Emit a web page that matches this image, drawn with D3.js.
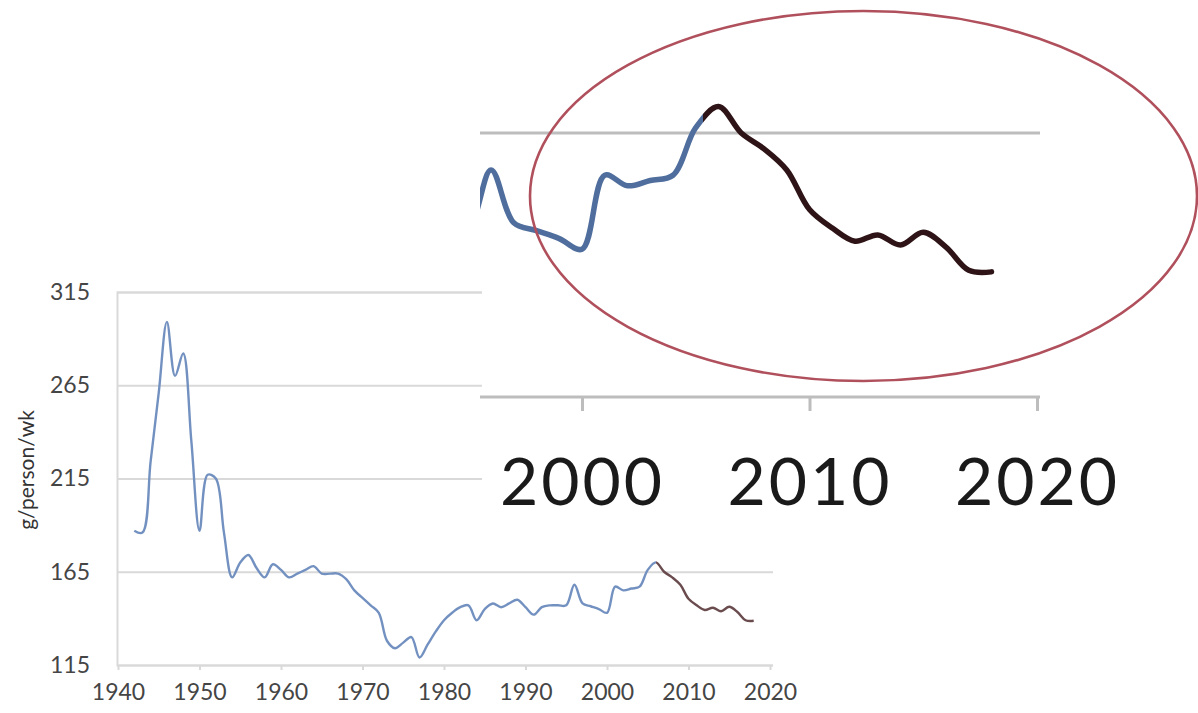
<!DOCTYPE html>
<html><head><meta charset="utf-8">
<script src="https://cdn.jsdelivr.net/npm/d3@7"></script>
<style>body{margin:0;background:#fff}svg{display:block}</style>
</head><body>
<svg id="c" width="1198" height="713"></svg>
<script>
// ---- data ----
const years = [1942,1943,1944,1945,1946,1947,1948,1949,1950,1951,1952,1953,1954,1955,1956,1957,1958,1959,1960,1961,
  1962,1963,1964,1965,1966,1967,1968,1969,1970,1971,1972,1973,1974,1975,1976,1977,1978,1979,1980,1981,
  1982,1983,1984,1985,1986,1987,1988,1989,1990,1991,1992,1993,1994,1995,1996,1997,1998,1999,2000,2001,
  2002,2003,2004,2005,2006,2007,2008,2009,2010,2011,2012,2013,2014,2015,2016,2017,2018];
const values = [187,186,224,261,299,270,282,235,187,217,215,186,162,170,174,167,162,169,166,162,
  164,166,168,164,164,164,161,155,151,147,143,128,124,127,130,119,126,133,139,143,
  146,147,139,145,148,146,148,150,146,142,146,147,147,147,158,148,146.5,145,143,157,
  155,156,157,166,170,165,162,158,150.5,147,144.5,145.7,143.8,146.2,143.4,139,138.7];
const yTicks = [115,165,215,265,315];
const xTicks = [1940,1950,1960,1970,1980,1990,2000,2010,2020];
const insetXTicks = [2000,2010,2020];
const insetGridValues = [165];
const mainSplitYear = 2006;
const insetSplitYear = 2005.3;
const yTitle = "g/person/wk";

const data = years.map((yr,i)=>({year:yr, value:values[i]}));
const svg = d3.select("#c");
const defs = svg.append("defs");

// ---- main chart ----
const x = d3.scaleLinear().domain([1940,2020]).range([118,770]);
const y = d3.scaleLinear().domain([115,315]).range([665,292]);

const gy = svg.append("g").attr("transform","translate(117,0)")
  .call(d3.axisLeft(y).tickValues(yTicks).tickSize(-656).tickPadding(27).tickFormat(d3.format("d")));
gy.select(".domain").attr("stroke","#d9d9d9").attr("stroke-width",2);
gy.selectAll(".tick line").attr("stroke","#d9d9d9").attr("stroke-width",2);
gy.selectAll(".tick text").attr("fill","#454545").style("font-family","Lato, 'Open Sans', sans-serif").style("font-size","23px");

const gx = svg.append("g").attr("transform","translate(0,665)")
  .call(d3.axisBottom(x).tickValues(xTicks).tickSize(5).tickPadding(14).tickFormat(d3.format("d")));
gx.select(".domain").remove();
gx.selectAll(".tick line").attr("stroke","#d9d9d9").attr("stroke-width",2);
gx.selectAll(".tick text").attr("fill","#454545").style("font-family","Lato, 'Open Sans', sans-serif").style("font-size","23px");

svg.append("text").attr("transform","translate(34,470) rotate(-90)")
  .attr("text-anchor","middle").attr("fill","#333")
  .style("font-family","Lato, 'Open Sans', sans-serif").style("font-size","21px").text(yTitle);

const gradMain = defs.append("linearGradient").attr("id","gMain").attr("gradientUnits","userSpaceOnUse")
  .attr("x1",x(1940)).attr("x2",x(2020)).attr("y1",0).attr("y2",0);
const offM = (x(mainSplitYear)-x(1940))/(x(2020)-x(1940));
gradMain.append("stop").attr("offset",offM).attr("stop-color","#7391c0");
gradMain.append("stop").attr("offset",offM).attr("stop-color","#6a4c4f");

const mainLine = d3.line().x(d=>x(d.year)).y(d=>y(d.value)).curve(d3.curveCatmullRom.alpha(0.5));
svg.append("path").datum(data).attr("d",mainLine).attr("fill","none")
  .attr("stroke","url(#gMain)").attr("stroke-width",2.4).attr("stroke-linejoin","round");

// ---- inset (magnified) ----
svg.append("rect").attr("x",482).attr("y",0).attr("width",716).attr("height",528).attr("fill","#fff");

const ix = d3.scaleLinear().domain([2000,2020]).range([582,1037]);
const iy = d3.scaleLinear().domain([115,165]).range([397,133]);

svg.append("g").selectAll("line").data(insetGridValues).join("line")
  .attr("x1",480).attr("x2",1040).attr("y1",d=>iy(d)).attr("y2",d=>iy(d))
  .attr("stroke","#bdbdbd").attr("stroke-width",3);
svg.append("line").attr("x1",480).attr("x2",1040).attr("y1",iy(115)).attr("y2",iy(115))
  .attr("stroke","#bdbdbd").attr("stroke-width",3);

const gix = svg.append("g").attr("transform",`translate(0,${iy(115)})`)
  .call(d3.axisBottom(ix).tickValues(insetXTicks).tickSize(14).tickPadding(47).tickFormat(d3.format("d")));
gix.select(".domain").remove();
gix.selectAll(".tick line").attr("stroke","#bdbdbd").attr("stroke-width",3);
gix.selectAll(".tick text").attr("fill","#1a1a1a").style("font-family","Lato, 'Open Sans', sans-serif")
  .style("font-size","66px").style("letter-spacing","3px");

defs.append("clipPath").attr("id","insetClip").append("rect")
  .attr("x",480).attr("y",0).attr("width",560).attr("height",397);
const gradIn = defs.append("linearGradient").attr("id","gIn").attr("gradientUnits","userSpaceOnUse")
  .attr("x1",ix(1995)).attr("x2",ix(2020)).attr("y1",0).attr("y2",0);
const offI = (ix(insetSplitYear)-ix(1995))/(ix(2020)-ix(1995));
gradIn.append("stop").attr("offset",offI).attr("stop-color","#4f6e9d");
gradIn.append("stop").attr("offset",offI).attr("stop-color","#2e1416");

const insetLine = d3.line().x(d=>ix(d.year)).y(d=>iy(d.value)).curve(d3.curveCatmullRom.alpha(0.5));
svg.append("path").datum(data.filter(d=>d.year>=1993)).attr("d",insetLine).attr("fill","none")
  .attr("clip-path","url(#insetClip)")
  .attr("stroke","url(#gIn)").attr("stroke-width",5.5).attr("stroke-linejoin","round").attr("stroke-linecap","round");

// ---- highlight ellipse ----
svg.append("ellipse").attr("cx",863.5).attr("cy",196).attr("rx",333.5).attr("ry",185)
  .attr("fill","none").attr("stroke","#b0505c").attr("stroke-width",2.6);
</script>
</body></html>
